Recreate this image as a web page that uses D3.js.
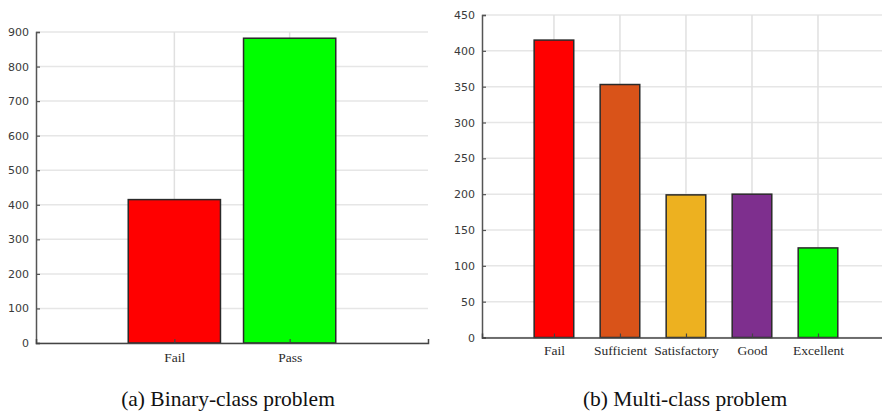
<!DOCTYPE html>
<html>
<head>
<meta charset="utf-8">
<script src="https://cdn.jsdelivr.net/npm/d3@7/dist/d3.min.js"></script>
<style>
  html, body { margin: 0; padding: 0; background: #fff; }
  svg { display: block; }
</style>
</head>
<body>
<svg id="chart" width="882" height="414"></svg>
<script>
// Binary-class panel
const binaryCategories = ["Fail", "Pass"];
const binaryCounts = [415, 882];
const binaryColors = ["#ff0000", "#00ff00"];
const binaryTicks = [0, 100, 200, 300, 400, 500, 600, 700, 800, 900];

// Multi-class panel
const multiCategories = ["Fail", "Sufficient", "Satisfactory", "Good", "Excellent"];
const multiCounts = [415, 353, 199, 200, 125];
const multiColors = ["#ff0000", "#d95319", "#edb120", "#7e2f8e", "#00ff00"];
const multiTicks = [0, 50, 100, 150, 200, 250, 300, 350, 400, 450];

const captions = ["(a) Binary-class problem", "(b) Multi-class problem"];

const svg = d3.select("#chart");

function panel(cfg) {
  const g = svg.append("g");
  const x = d3.scaleLinear().domain(cfg.xDomain).range([cfg.left, cfg.right]);
  const y = d3.scaleLinear().domain([0, cfg.yMax]).range([cfg.bottom, cfg.top]);
  const positions = cfg.categories.map((c, i) => i + 1);

  // grid
  g.append("g").selectAll("line.h").data(cfg.ticks).join("line")
    .attr("x1", cfg.left).attr("x2", cfg.right)
    .attr("y1", d => y(d)).attr("y2", d => y(d))
    .attr("stroke", "#e6e6e6").attr("stroke-width", 1.5);
  g.append("g").selectAll("line.v").data(positions).join("line")
    .attr("x1", d => x(d)).attr("x2", d => x(d))
    .attr("y1", cfg.top).attr("y2", cfg.bottom)
    .attr("stroke", "#e0e0e0").attr("stroke-width", 1.5);

  // bars
  g.append("g").selectAll("rect").data(cfg.values).join("rect")
    .attr("x", (d, i) => x(positions[i] - cfg.barWidth / 2))
    .attr("width", (d, i) => x(positions[i] + cfg.barWidth / 2) - x(positions[i] - cfg.barWidth / 2))
    .attr("y", d => y(d))
    .attr("height", d => y(0) - y(d))
    .attr("fill", (d, i) => cfg.colors[i])
    .attr("stroke", "#2a2a2a").attr("stroke-width", 1.5);

  // y axis
  const yAxis = d3.axisLeft(y).tickValues(cfg.ticks).tickSize(-4).tickPadding(7);
  const ya = g.append("g").attr("transform", `translate(${cfg.left},0)`).call(yAxis);
  ya.select(".domain").attr("stroke", "#555").attr("stroke-width", 1.5);
  ya.selectAll(".tick line").attr("stroke", "#555").attr("stroke-width", 1.2);
  ya.selectAll(".tick text").attr("font-family", "DejaVu Sans, sans-serif")
    .attr("font-size", 11).attr("fill", "#3a3a3a");

  // x axis
  const xAxis = d3.axisBottom(x).tickValues(positions)
    .tickFormat(d => cfg.categories[d - 1]).tickSize(-4).tickPadding(cfg.xPad);
  const xa = g.append("g").attr("transform", `translate(0,${cfg.bottom})`).call(xAxis);
  xa.select(".domain").attr("stroke", "#444").attr("stroke-width", 1.5);
  xa.selectAll(".tick line").attr("stroke", "#444").attr("stroke-width", 1.2);
  xa.selectAll(".tick text").attr("font-family", "Liberation Serif, Times New Roman, serif")
    .attr("font-size", 13.5).attr("fill", "#2a2a2a");

  // caption
  svg.append("text")
    .attr("x", cfg.captionX).attr("y", 406)
    .attr("text-anchor", "middle")
    .attr("font-family", "Liberation Serif, Times New Roman, serif")
    .attr("font-size", 21.5).attr("fill", "#111")
    .text(cfg.caption);
}

panel({
  categories: binaryCategories, values: binaryCounts, colors: binaryColors, ticks: binaryTicks,
  yMax: 900, xDomain: [-0.2, 3.2], left: 36, right: 428, top: 32, bottom: 343,
  barWidth: 0.8, xPad: 9, caption: captions[0], captionX: 228
});

panel({
  categories: multiCategories, values: multiCounts, colors: multiColors, ticks: multiTicks,
  yMax: 450, xDomain: [-0.09, 6.0], left: 482, right: 884, top: 15, bottom: 337.5,
  barWidth: 0.6, xPad: 8, caption: captions[1], captionX: 685
});
</script>
</body>
</html>
